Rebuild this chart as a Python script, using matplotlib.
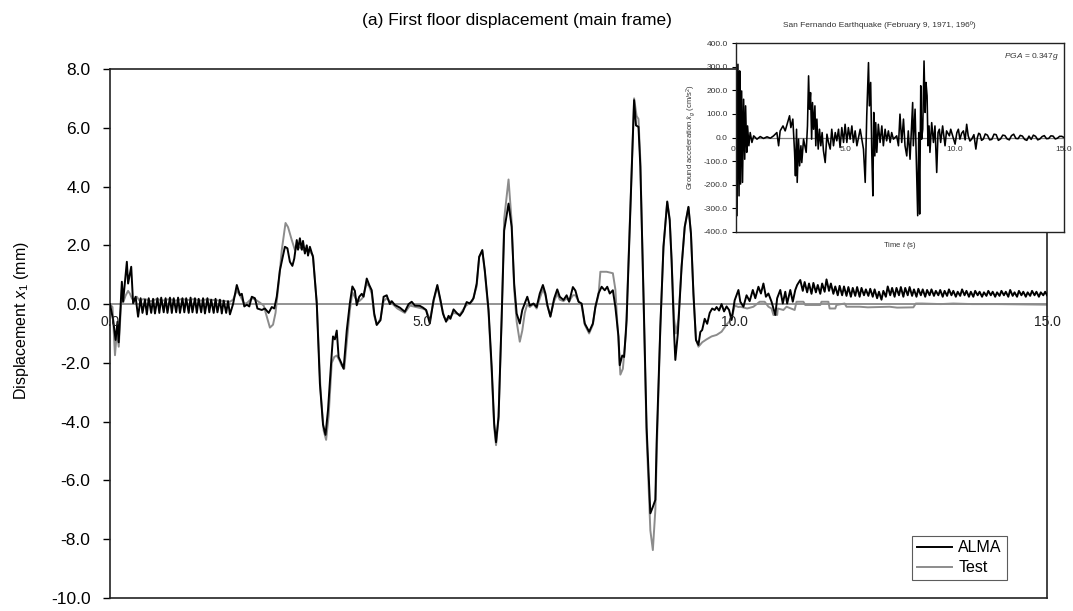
import numpy as np
import matplotlib
matplotlib.use("Agg")
import matplotlib.pyplot as plt

plt.rcParams['font.family'] = ['Liberation Sans', 'DejaVu Sans']
plt.rcParams['mathtext.fontset'] = 'custom'
plt.rcParams['mathtext.rm'] = 'Liberation Sans'
plt.rcParams['mathtext.it'] = 'Liberation Sans:italic'

# first floor displacement, ALMA model (mm)
t_alma = [0.00, 0.05, 0.09, 0.12, 0.14, 0.19, 0.21, 0.27, 0.29, 0.34, 0.37, 0.41, 0.45,
          0.49, 0.52, 0.56, 0.59, 0.62, 0.66, 0.69, 0.72, 0.76, 0.79, 0.82, 0.86, 0.89, 0.92,
          0.96, 0.99, 1.02, 1.06, 1.09, 1.12, 1.16, 1.19, 1.22, 1.26, 1.29, 1.32, 1.36, 1.39,
          1.42, 1.46, 1.49, 1.52, 1.56, 1.59, 1.62, 1.66, 1.69, 1.72, 1.76, 1.79, 1.82, 1.86,
          1.89, 1.92, 1.97, 2.03, 2.08, 2.11, 2.15, 2.19, 2.23, 2.27, 2.32, 2.36, 2.43, 2.48,
          2.54, 2.59, 2.63, 2.67, 2.72, 2.80, 2.84, 2.88, 2.92, 2.95, 2.99, 3.01, 3.04, 3.07,
          3.09, 3.12, 3.15, 3.17, 3.20, 3.25, 3.31, 3.36, 3.41, 3.45, 3.49, 3.55, 3.57, 3.60,
          3.63, 3.66, 3.71, 3.74, 3.79, 3.84, 3.88, 3.92, 3.95, 3.99, 4.03, 4.06, 4.11, 4.15,
          4.19, 4.23, 4.27, 4.33, 4.38, 4.43, 4.48, 4.51, 4.56, 4.64, 4.72, 4.78, 4.83, 4.88,
          4.96, 5.01, 5.06, 5.12, 5.18, 5.24, 5.29, 5.33, 5.38, 5.42, 5.45, 5.50, 5.55, 5.60,
          5.65, 5.71, 5.76, 5.82, 5.87, 5.91, 5.96, 6.00, 6.06, 6.11, 6.15, 6.18, 6.22, 6.27,
          6.31, 6.38, 6.43, 6.47, 6.51, 6.56, 6.60, 6.64, 6.68, 6.72, 6.78, 6.83, 6.88, 6.93,
          6.97, 7.00, 7.05, 7.11, 7.16, 7.20, 7.26, 7.31, 7.35, 7.41, 7.45, 7.50, 7.55, 7.60,
          7.67, 7.73, 7.77, 7.82, 7.87, 7.92, 7.96, 8.00, 8.05, 8.09, 8.14, 8.16, 8.20, 8.23,
          8.27, 8.33, 8.39, 8.42, 8.46, 8.49, 8.54, 8.59, 8.65, 8.69, 8.73, 8.75, 8.81, 8.86,
          8.92, 8.96, 8.99, 9.03, 9.05, 9.09, 9.15, 9.20, 9.26, 9.30, 9.34, 9.38, 9.42, 9.45,
          9.48, 9.52, 9.56, 9.60, 9.64, 9.68, 9.71, 9.75, 9.79, 9.83, 9.87, 9.91, 9.95, 10.00,
          10.06, 10.09, 10.14, 10.19, 10.24, 10.29, 10.33, 10.38, 10.42, 10.46, 10.50, 10.54,
          10.59, 10.65, 10.68, 10.73, 10.77, 10.81, 10.84, 10.89, 10.93, 10.97, 11.00, 11.05,
          11.09, 11.12, 11.16, 11.19, 11.23, 11.26, 11.30, 11.33, 11.37, 11.40, 11.44, 11.47,
          11.51, 11.54, 11.58, 11.61, 11.65, 11.68, 11.72, 11.75, 11.79, 11.82, 11.86, 11.89,
          11.93, 11.96, 12.00, 12.03, 12.07, 12.10, 12.14, 12.17, 12.21, 12.24, 12.28, 12.31,
          12.35, 12.38, 12.42, 12.45, 12.49, 12.52, 12.56, 12.59, 12.63, 12.66, 12.70, 12.73,
          12.77, 12.80, 12.84, 12.87, 12.91, 12.94, 12.98, 13.01, 13.05, 13.08, 13.12, 13.15,
          13.19, 13.22, 13.26, 13.29, 13.33, 13.36, 13.40, 13.43, 13.47, 13.50, 13.54, 13.57,
          13.61, 13.64, 13.68, 13.71, 13.75, 13.78, 13.82, 13.85, 13.89, 13.92, 13.96, 13.99,
          14.03, 14.06, 14.10, 14.13, 14.17, 14.20, 14.24, 14.27, 14.31, 14.34, 14.38, 14.41,
          14.45, 14.48, 14.52, 14.55, 14.59, 14.62, 14.66, 14.69, 14.73, 14.76, 14.80, 14.83,
          14.87, 14.90, 14.94, 14.97, 15.00]
x_alma = [0.0, -0.54, -1.22, -0.6, -1.3, 0.76, 0.09, 1.44, 0.7, 1.27, 0.03, 0.25, -0.43,
          0.2, -0.3, 0.15, -0.35, 0.2, -0.3, 0.18, -0.32, 0.2, -0.3, 0.22, -0.28, 0.2, -0.3,
          0.22, -0.3, 0.2, -0.28, 0.22, -0.3, 0.2, -0.28, 0.2, -0.3, 0.22, -0.28, 0.2, -0.3,
          0.18, -0.28, 0.2, -0.32, 0.2, -0.28, 0.15, -0.3, 0.18, -0.28, 0.15, -0.32, 0.12, -0.3,
          0.1, -0.35, 0.0, 0.65, 0.3, 0.35, -0.08, -0.02, -0.08, 0.25, 0.2, -0.15, -0.2, -0.15,
          -0.3, -0.1, -0.15, 0.26, 1.15, 1.95, 1.9, 1.44, 1.3, 1.55, 2.18, 1.85, 2.24, 1.85,
          2.15, 1.72, 2.0, 1.65, 1.95, 1.6, 0.03, -2.7, -4.1, -4.45, -3.6, -1.68, -1.1, -1.2,
          -0.9, -1.8, -2.04, -2.2, -0.9, 0.03, 0.6, 0.45, -0.04, 0.25, 0.35, 0.25, 0.87, 0.65,
          0.47, -0.32, -0.71, -0.55, 0.25, 0.3, 0.0, 0.1, -0.03, -0.12, -0.26, 0.0, 0.08, -0.05,
          -0.06, -0.12, -0.2, -0.66, 0.14, 0.65, 0.14, -0.32, -0.6, -0.4, -0.5, -0.18, -0.3, -0.4,
          -0.25, 0.07, 0.02, 0.2, 0.7, 1.61, 1.84, 1.15, -0.2, -2.13, -4.06, -4.7, -3.83, -0.44,
          2.5, 3.42, 2.63, 0.7, -0.32, -0.66, -0.2, 0.02, 0.25, -0.05, 0.02, -0.1, 0.36, 0.65,
          0.36, -0.02, -0.43, 0.19, 0.5, 0.25, 0.14, 0.3, 0.08, 0.58, 0.46, 0.08, 0.02, -0.66,
          -0.94, -0.66, -0.1, 0.36, 0.59, 0.47, 0.59, 0.36, 0.47, -0.1, -1.1, -2.08, -1.75, -1.8,
          -0.54, 3.2, 6.94, 6.08, 6.03, 4.67, 0.36, -4.2, -7.12, -6.9, -6.66, -4.74, -0.77, 1.95,
          3.48, 2.85, 1.5, -1.0, -1.9, -1.0, 1.26, 2.63, 3.31, 2.4, 0.36, -1.22, -1.39, -0.95,
          -0.88, -0.5, -0.67, -0.3, -0.15, -0.2, -0.1, -0.22, 0.0, -0.25, -0.08, -0.2, -0.54, 0.13,
          0.48, 0.08, -0.09, 0.3, 0.1, 0.48, 0.2, 0.59, 0.36, 0.7, 0.25, 0.36,
          0.08, -0.37, 0.2, 0.48, 0.02, 0.42, 0.02, 0.48, 0.08, 0.48, 0.65, 0.82,
          0.45, 0.75, 0.4, 0.7, 0.35, 0.72, 0.4, 0.65, 0.35, 0.7, 0.42, 0.84,
          0.45, 0.7, 0.35, 0.6, 0.3, 0.62, 0.3, 0.6, 0.28, 0.58, 0.25, 0.55,
          0.28, 0.58, 0.25, 0.55, 0.3, 0.5, 0.28, 0.52, 0.25, 0.5, 0.2, 0.42,
          0.15, 0.45, 0.25, 0.6, 0.3, 0.55, 0.25, 0.55, 0.3, 0.58, 0.25, 0.55,
          0.3, 0.58, 0.28, 0.5, 0.25, 0.52, 0.3, 0.5, 0.25, 0.48, 0.3, 0.5,
          0.28, 0.45, 0.3, 0.48, 0.25, 0.45, 0.28, 0.5, 0.3, 0.45, 0.25, 0.42,
          0.28, 0.5, 0.3, 0.45, 0.25, 0.42, 0.25, 0.45, 0.3, 0.42, 0.25, 0.4,
          0.28, 0.45, 0.3, 0.42, 0.25, 0.4, 0.28, 0.45, 0.3, 0.42, 0.25, 0.48,
          0.28, 0.4, 0.25, 0.45, 0.3, 0.42, 0.25, 0.4, 0.28, 0.45, 0.3, 0.42,
          0.25, 0.4, 0.3, 0.42, 0.3]

# first floor displacement, shake table test (mm)
t_test = [0.00, 0.04, 0.08, 0.11, 0.14, 0.19, 0.21, 0.25, 0.29, 0.32, 0.35, 0.39, 0.43, 0.47,
          0.55, 0.65, 0.75, 0.85, 0.95, 1.05, 1.15, 1.25, 1.35, 1.45, 1.55, 1.65, 1.75, 1.85,
          1.92, 1.97, 2.03, 2.08, 2.15, 2.20, 2.27, 2.33, 2.40, 2.46, 2.51, 2.56, 2.61, 2.65,
          2.70, 2.75, 2.81, 2.85, 2.91, 2.96, 3.00, 3.07, 3.12, 3.18, 3.25, 3.31, 3.37, 3.42,
          3.46, 3.50, 3.55, 3.59, 3.63, 3.67, 3.71, 3.75, 3.80, 3.84, 3.88, 3.93, 3.99, 4.04,
          4.11, 4.15, 4.19, 4.23, 4.27, 4.33, 4.38, 4.43, 4.50, 4.60, 4.72, 4.80, 4.90, 5.00,
          5.06, 5.12, 5.18, 5.24, 5.29, 5.35, 5.40, 5.50, 5.60, 5.70, 5.80, 5.87, 5.91, 5.96,
          6.00, 6.06, 6.11, 6.15, 6.18, 6.22, 6.27, 6.31, 6.38, 6.43, 6.47, 6.51, 6.56, 6.60,
          6.64, 6.68, 6.72, 6.78, 6.83, 6.88, 6.93, 6.97, 7.00, 7.05, 7.11, 7.16, 7.20, 7.26,
          7.31, 7.35, 7.41, 7.45, 7.50, 7.55, 7.60, 7.67, 7.73, 7.77, 7.82, 7.85, 7.95, 8.05,
          8.09, 8.14, 8.17, 8.21, 8.26, 8.33, 8.39, 8.43, 8.46, 8.49, 8.54, 8.59, 8.65, 8.69,
          8.73, 8.76, 8.81, 8.86, 8.92, 8.96, 8.99, 9.03, 9.06, 9.10, 9.15, 9.20, 9.26, 9.30,
          9.34, 9.38, 9.42, 9.48, 9.55, 9.63, 9.71, 9.79, 9.87, 9.95, 10.00, 10.06, 10.09,
          10.20, 10.30, 10.40, 10.48, 10.54, 10.59, 10.62, 10.68, 10.69, 10.78, 10.83, 10.96,
          10.99, 11.10, 11.13, 11.37, 11.39, 11.50, 11.52, 11.61, 11.63, 11.76, 11.79, 12.00,
          12.13, 12.30, 12.48, 12.60, 12.86, 12.90, 13.00, 13.30, 13.50, 13.80, 14.20, 14.60,
          15.00]
x_test = [0.0, -0.1, -1.74, -0.93, -1.45, 0.47, 0.05, 0.29, 0.45, 0.35, 0.2, 0.08, 0.25, 0.12,
          0.18, 0.1, 0.17, 0.12, 0.17, 0.12, 0.17, 0.14, 0.17, 0.12, 0.16, 0.14, 0.12, 0.1,
          0.08, 0.15, 0.45, 0.3, 0.0, 0.05, 0.2, 0.15, 0.05, -0.05, -0.42, -0.8, -0.7, -0.3,
          0.7, 1.84, 2.76, 2.62, 2.18, 1.84, 1.95, 1.9, 1.8, 1.85, 1.65, 0.03, -2.9, -4.3,
          -4.62, -3.8, -2.0, -1.8, -1.75, -1.9, -2.1, -2.2, -1.1, -0.2, 0.4, 0.2, 0.1, 0.2,
          0.7, 0.6, 0.35, -0.4, -0.7, -0.5, 0.1, 0.2, 0.05, -0.15, -0.3, -0.05, -0.1, -0.15,
          -0.2, -0.55, 0.1, 0.6, 0.1, -0.45, -0.55, -0.3, -0.35, -0.05, 0.1, 0.6, 1.6, 1.8,
          1.1, -0.3, -2.3, -4.2, -4.8, -3.9, -0.5, 2.9, 4.24, 2.8, 0.5, -0.6, -1.28, -0.9,
          -0.3, 0.0, -0.1, 0.0, -0.15, 0.2, 0.5, 0.3, -0.05, -0.4, 0.1, 0.35, 0.15, 0.1,
          0.2, 0.1, 0.3, 0.3, 0.1, -0.05, -0.7, -1.0, -0.7, -0.1, 0.3, 1.1, 1.1, 1.05,
          0.5, -1.3, -2.4, -2.2, -1.0, 3.3, 7.0, 6.4, 6.3, 4.9, 0.2, -4.5, -7.7, -8.37,
          -7.0, -4.5, -0.8, 1.95, 3.5, 2.9, 1.5, -0.5, -1.0, -0.5, 1.3, 2.6, 3.3, 2.4,
          0.3, -1.2, -1.45, -1.3, -1.2, -1.1, -1.05, -0.94, -0.7, -0.5, -0.05, -0.1, -0.09,
          -0.15, -0.09, 0.08, 0.08, -0.09, -0.15, -0.37, -0.37, -0.15, -0.2, -0.09, -0.2,
          0.08, 0.08, -0.03, -0.03, 0.08, 0.08, -0.15, -0.15, -0.03, 0.02, -0.09, -0.09,
          -0.11, -0.1, -0.09, -0.12, -0.11, 0.02, 0.02, 0.0, 0.02, 0.0, 0.0, -0.01,
          -0.02]

# San Fernando ground acceleration record (cm/s^2)
t_acc = [0.00, 0.01, 0.05, 0.09, 0.14, 0.17, 0.21, 0.26, 0.30, 0.35, 0.40, 0.44, 0.49, 0.53,
         0.59, 0.65, 0.73, 0.81, 0.96, 1.11, 1.26, 1.42, 1.57, 1.72, 1.87, 1.95, 2.02, 2.15,
         2.25, 2.36, 2.45, 2.51, 2.60, 2.68, 2.72, 2.77, 2.80, 2.86, 2.91, 2.97, 3.01, 3.09,
         3.21, 3.27, 3.32, 3.36, 3.41, 3.46, 3.50, 3.55, 3.61, 3.65, 3.70, 3.76, 3.82, 3.88,
         3.94, 4.00, 4.08, 4.16, 4.23, 4.31, 4.38, 4.46, 4.54, 4.61, 4.69, 4.76, 4.84, 4.92,
         4.99, 5.07, 5.14, 5.22, 5.30, 5.37, 5.45, 5.53, 5.68, 5.83, 5.91, 5.98, 6.06, 6.10,
         6.16, 6.21, 6.26, 6.30, 6.35, 6.39, 6.44, 6.51, 6.59, 6.67, 6.74, 6.82, 6.89, 6.97,
         7.05, 7.12, 7.20, 7.35, 7.43, 7.50, 7.58, 7.66, 7.73, 7.81, 7.88, 7.96, 8.08, 8.11,
         8.19, 8.26, 8.31, 8.36, 8.40, 8.45, 8.49, 8.54, 8.60, 8.65, 8.69, 8.74, 8.78, 8.83,
         8.87, 8.95, 9.03, 9.10, 9.18, 9.24, 9.30, 9.36, 9.45, 9.56, 9.63, 9.76, 9.82, 9.91,
         10.02, 10.10, 10.17, 10.24, 10.32, 10.40, 10.48, 10.55, 10.62, 10.70, 10.78, 10.88,
         10.97, 11.04, 11.10, 11.16, 11.23, 11.31, 11.40, 11.50, 11.60, 11.70, 11.80, 11.90,
         12.00, 12.10, 12.20, 12.30, 12.40, 12.50, 12.60, 12.70, 12.80, 12.90, 13.00, 13.10,
         13.20, 13.30, 13.40, 13.50, 13.60, 13.70, 13.80, 13.90, 14.00, 14.10, 14.20, 14.30,
         14.40, 14.50, 14.60, 14.70, 14.80, 14.90, 15.00]
a_acc = [0, 345, -331, 310, -247, 282, -197, 197, -190, 162, -92, 134, -63, 49,
         -35, 21, -21, 7, -7, 4, -4, 3, -3, 7, 21, -35, 28, 49,
         28, 63, 92, 42, 78, -63, -162, 35, -190, -7, -120, -35, -106, -7,
         -63, 49, 261, 120, 190, -7, 148, 35, 134, -35, 78, -49, 35, -35,
         21, -56, -106, 14, -21, -49, 35, -35, 21, -14, 35, -42, 42, -21,
         56, -21, 42, -7, 49, -21, 28, -35, 35, -49, -190, 92, 317, 134,
         233, -63, -247, 106, -78, 63, -63, 56, -21, 49, -35, 35, -14, 28,
         -21, 21, -7, 7, -35, 99, -21, 78, -35, -78, 28, -92, 148, -35,
         120, -148, -331, 21, -324, 219, -7, 35, 324, 106, 233, 176, -35, 49,
         -63, 63, -21, 49, -148, 21, 35, -21, 49, -35, 28, 7, 35, 7,
         -28, 20, 35, -7, 18, 28, -10, 56, 7, -15, -7, 12,
         -49, 0, 18, 14, -12, -7, 15, 10, -10, -8, 14, 12,
         -12, -6, 10, 8, -6, -10, 8, 14, -4, -5, 9, 6,
         -8, -12, 6, -8, 10, 5, -10, -6, 4, 8, -5, -4,
         7, 6, -6, -3, 5, 5, 0]

xtick_vals = [0.0, 5.0, 10.0, 15.0]
ytick_vals = [8.0, 6.0, 4.0, 2.0, 0.0, -2.0, -4.0, -6.0, -8.0, -10.0]
inset_xticks = [0, 5, 10, 15]
inset_xlabels = ['0', '5.0', '10.0', '15.0']
inset_yticks = [400, 300, 200, 100, 0, -100, -200, -300, -400]

fig = plt.figure(figsize=(10.73, 6.11), dpi=100)
ax = fig.add_axes([0.1025, 0.0213, 0.8733, 0.8658])

ax.axhline(0, color='#808080', lw=1.2, zorder=1)
ax.plot(t_alma, x_alma, color='black', lw=1.4, label='ALMA', zorder=3)
ax.plot(t_test, x_test, color='#8c8c8c', lw=1.4, label='Test', zorder=2)

ax.set_xlim(0, 15)
ax.set_ylim(-10, 8)
ax.set_xticks([])
ax.set_yticks(ytick_vals)
ax.set_yticklabels(['%.1f' % v for v in ytick_vals], fontsize=12.5)
ax.tick_params(axis='y', direction='out', length=5, width=1, pad=9)
for s in ax.spines.values():
    s.set_linewidth(1.2)
    s.set_color('#222222')
for v in xtick_vals:
    ax.annotate('%.1f' % v, (v, 0), xytext=(0, -8), textcoords='offset points',
                ha='center', va='top', fontsize=10, color='#222222')

ax.set_ylabel('Displacement $x_1$ (mm)', fontsize=11.5)
ax.yaxis.set_label_coords(-0.084, 0.525)
fig.text(517 / 1073, 1 - 20 / 611, '(a) First floor displacement (main frame)',
         ha='center', va='center', fontsize=12.5)

leg = ax.legend(loc='lower right', bbox_to_anchor=(0.957, 0.034), fontsize=11.5,
                frameon=True, fancybox=False, handlelength=2.2, handletextpad=0.4,
                borderpad=0.3, labelspacing=0.3, borderaxespad=0)
leg.get_frame().set_edgecolor('#333333')
leg.get_frame().set_linewidth(0.8)

# inset: ground acceleration
ins = fig.add_axes([0.6859, 0.6203, 0.3057, 0.3093])
ins.set_facecolor('white')
ins.axhline(0, color='#808080', lw=0.9, zorder=1)
ins.plot(t_acc, a_acc, color='black', lw=1.15, zorder=2)
ins.set_xlim(0, 15)
ins.set_ylim(-400, 400)
ins.set_xticks([])
ins.set_yticks(inset_yticks)
ins.set_yticklabels(['%.1f' % v for v in inset_yticks], fontsize=6, color='#333333')
ins.tick_params(axis='y', direction='out', length=3, width=0.8, pad=3)
for s in ins.spines.values():
    s.set_linewidth(1.0)
    s.set_color('#222222')
for v, lab in zip(inset_xticks, inset_xlabels):
    ins.annotate(lab, (v, 0), xytext=(-2 if v == 0 else 0, -6), textcoords='offset points',
                 ha='center', va='top', fontsize=6, color='#333333')
ins.text(0.985, 0.93, '$PGA$ = 0.347$g$', transform=ins.transAxes, ha='right',
         va='center', fontsize=6, color='#333333')
ins.set_xlabel('Time $t$ (s)', fontsize=5.5, color='#333333', labelpad=6)
ins.set_ylabel('Ground acceleration $\\ddot{x}_g$ (cm/s$^2$)', fontsize=5.5,
               color='#333333', labelpad=4)
fig.text(879 / 1073, 1 - 25 / 611, 'San Fernando Earthquake (February 9, 1971, 196º)',
         ha='center', va='center', fontsize=6, color='#333333')

fig.savefig('out.png', dpi=100)
